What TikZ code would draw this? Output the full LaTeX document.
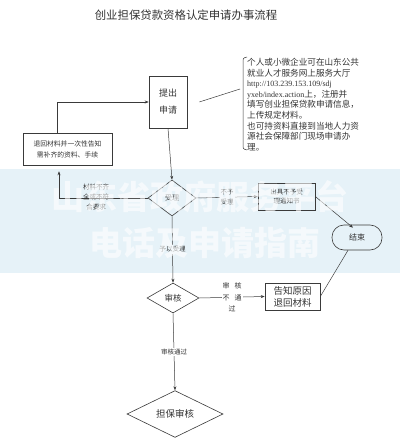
\documentclass[tikz,border=0pt]{standalone}
\usepackage{fontspec}
\usepackage{xcolor}
\usepackage{tikz}
\usetikzlibrary{arrows.meta,positioning,calc,shapes.geometric}
\setmainfont{Noto Sans CJK SC}
\newfontfamily\urlfont{Liberation Serif}
\definecolor{band}{HTML}{E6F2F8}
\definecolor{ln}{HTML}{3A3A3A}
\definecolor{tx}{HTML}{333333}
\newcommand{\Fs}[2]{\fontsize{#1}{#2}\selectfont}
\tikzset{
  flowbox/.style={draw=ln, line width=0.6pt, align=center, inner sep=1pt, text=tx},
  decide/.style={diamond, draw=ln, line width=0.6pt, inner sep=0pt, align=center, text=tx},
  flow/.style={draw=ln, line width=0.5pt, -{Stealth[length=4pt,width=3pt]}},
  plain/.style={draw=ln, line width=0.5pt},
  tag/.style={font=\Fs{6.5}{9.5}, align=center, inner sep=1pt, text=tx},
  mark wm/.style={text=white, opacity=0.6, font=\Fs{33}{36}\bfseries},
}

\begin{document}
\begin{tikzpicture}[x=1pt, y=-1pt]
  \useasboundingbox (0,0) rectangle (400,443);
  \fill[band] (0,169) rectangle (400,273);

  \node[font=\Fs{11.4}{13}, text=tx] (title) at (186,15) {创业担保贷款资格认定申请办事流程};

  % nodes
  \node[flowbox, minimum width=38pt, minimum height=52pt, font=\Fs{9}{17}] (apply) at (168,102) {提出\\申请};
  \node[flowbox, minimum width=89pt, minimum height=32pt, font=\Fs{6.8}{11}] (back) at (67.5,149) {退回材料并一次性告知\\需补齐的资料、手续};
  \node[decide, minimum width=48pt, minimum height=36pt, font=\Fs{7}{9}] (accept) at (172,198) {受理};
  \node[flowbox, minimum width=57pt, minimum height=27pt, font=\Fs{6.5}{9.5}] (notice) at (286.5,196.5) {出具不予受\\理通知书};
  \node[flowbox, rounded corners=12pt, minimum width=50pt, minimum height=25pt, font=\Fs{8}{10}] (end) at (357,237.5) {结束};
  \node[decide, minimum width=52pt, minimum height=30pt, font=\Fs{8.5}{10}] (review) at (173,298) {审核};
  \node[flowbox, minimum width=55pt, minimum height=27pt, font=\Fs{9.5}{12}] (refuse) at (292.5,296.5) {告知原因\\退回材料};
  \node[decide, minimum width=96pt, minimum height=46pt, font=\Fs{9.5}{12}] (guar) at (175,414) {担保审核};

  % note with bracket
  \node[anchor=north west, align=left, inner sep=0pt, text=tx, font=\Fs{8.6}{10.6}] (note) at (247,58) {%
    个人或小微企业可在山东公共\\
    就业人才服务网上服务大厅\\
    {\urlfont\Fs{8}{10.6}http://103.239.153.109/sdj}\\
    {\urlfont\Fs{8}{10.6}yxeb/index.action}上，注册并\\
    填写创业担保贷款申请信息，\\
    上传规定材料。\\
    也可持资料直接到当地人力资\\
    源社会保障部门现场申请办\\
    理。};
  \coordinate (brace) at (240,89);
  \draw[plain] (247,57) .. controls (243,58) .. (243,63) -- (243,144) .. controls (243,149) .. (247,150);
  \draw[plain] ([xshift=12pt]apply.east) -- (brace);

  % connectors
  \draw[flow] ([xshift=-10.5pt]back.north) |- (apply.west);
  \draw[flow] (apply.south) -- (accept.north);
  \draw[flow] (accept.west) -| ([xshift=-8.5pt,yshift=-6pt]back.south);
  \node[tag, font=\Fs{6.5}{10}] (lack) at (96,197) {材料不齐\\全或不符\\合要求};
  \draw[flow] (accept.east) -- node[tag, fill=band] (nolbl) {不予\\受理} (notice.west);
  \draw[flow] (notice.east) -- ([xshift=-4pt,yshift=-3pt]end.north);
  \draw[flow] (accept.south) -- node[tag, fill=band] (oklbl) {予以受理} (review.north);
  \draw[flow] (review.east) -- node[tag, fill=white, font=\Fs{7}{11.5}] (faillbl) {审\hspace{5pt}核\\不\hspace{5pt}通\\过\hspace{12pt}} (refuse.west);
  \draw[plain] (refuse.east) -- ([xshift=-9pt]end.south);
  \draw[flow] (review.south) -- node[tag, fill=white] (passlbl) {审核通过} (guar.north);

  % watermark
  \node[mark wm] (wm1) at (200,197) {山东省政府服务平台};
  \node[mark wm] (wm2) at (205,243) {电话及申请指南};
\end{tikzpicture}
\end{document}
